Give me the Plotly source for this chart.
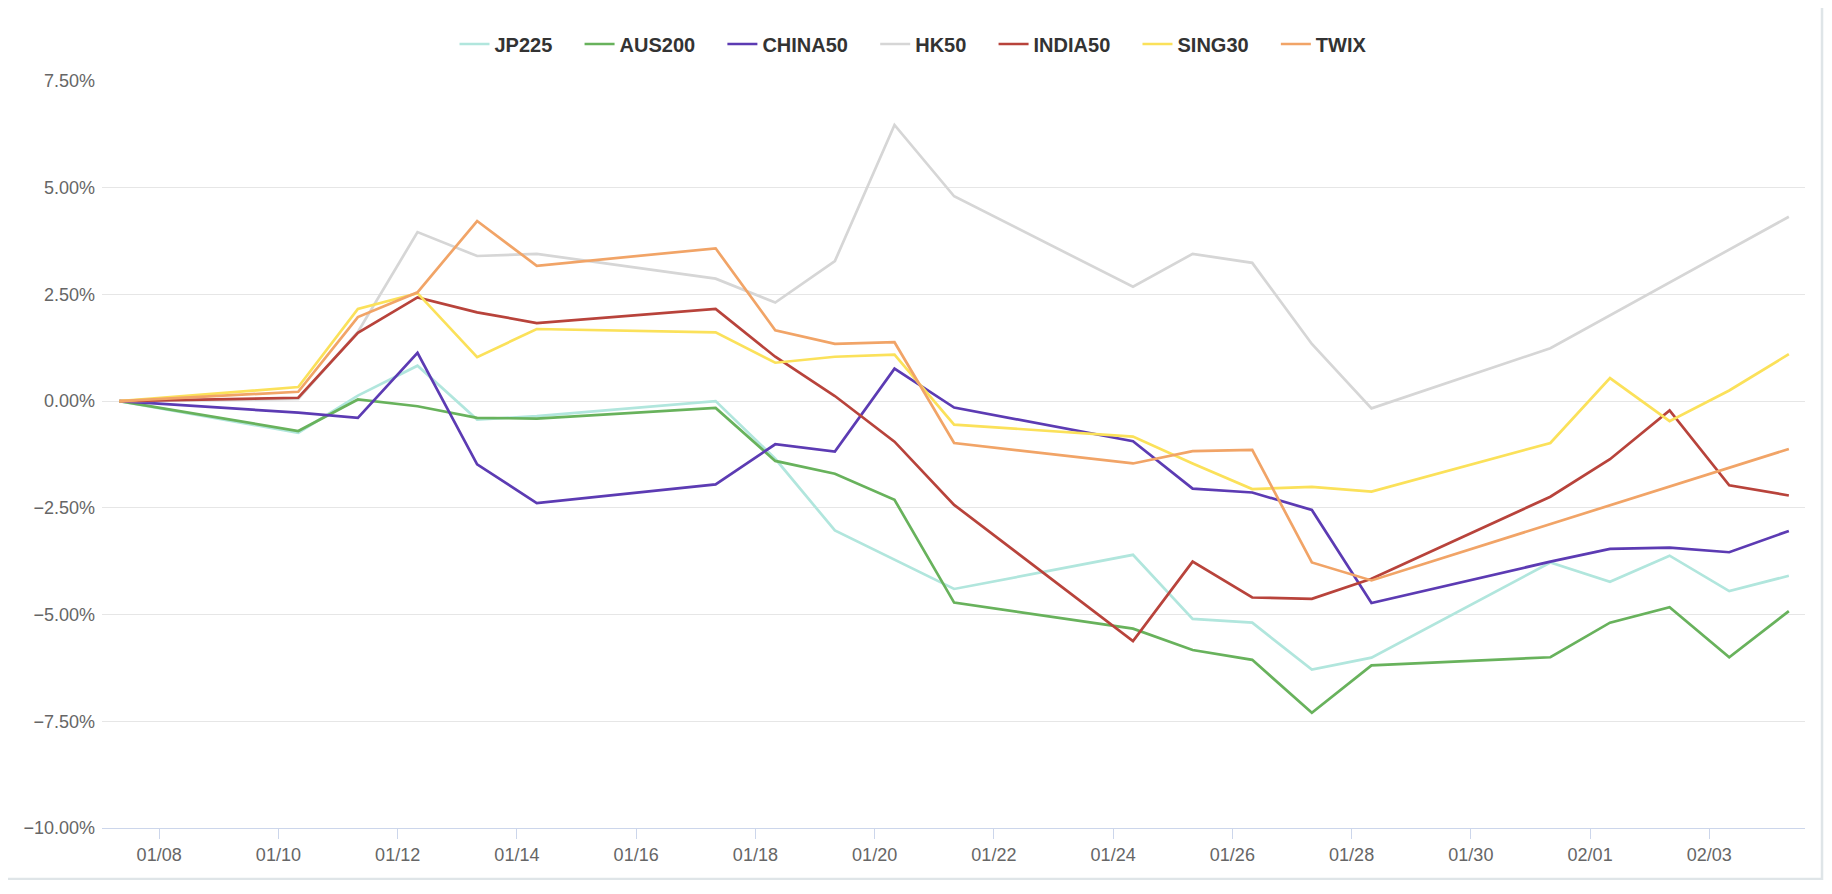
import plotly.graph_objs as go

# trading days (points sit at 08:00)
dates = ["2022-01-07", "2022-01-10", "2022-01-11", "2022-01-12", "2022-01-13",
         "2022-01-14", "2022-01-17", "2022-01-18", "2022-01-19", "2022-01-20",
         "2022-01-21", "2022-01-24", "2022-01-25", "2022-01-26", "2022-01-27",
         "2022-01-28", "2022-01-31", "2022-02-01", "2022-02-02", "2022-02-03",
         "2022-02-04"]
dates = [d + " 08:00" for d in dates]

# cumulative change in %
jp225 = [0, -0.74, 0.13, 0.83, -0.43, -0.35, 0.0, -1.35, -3.03, -3.71, -4.40,
         -3.60, -5.10, -5.19, -6.29, -6.01, -3.78, -4.23, -3.62, -4.45, -4.09]
aus200 = [0, -0.70, 0.04, -0.12, -0.39, -0.41, -0.16, -1.40, -1.70, -2.31, -4.72,
          -5.33, -5.83, -6.06, -7.30, -6.19, -6.00, -5.19, -4.83, -6.00, -4.92]
china50 = [0, -0.27, -0.39, 1.13, -1.48, -2.39, -1.95, -1.01, -1.18, 0.76, -0.15,
           -0.94, -2.05, -2.14, -2.55, -4.73, -3.76, -3.46, -3.43, -3.54, -3.04]
hk50 = [0, 0.05, 1.62, 3.96, 3.40, 3.45, 2.87, 2.31, 3.28, 6.47, 4.80,
        2.68, 3.45, 3.24, 1.34, -0.17, 1.24, None, None, None, 4.32]
india50 = [0, 0.08, 1.60, 2.43, 2.08, 1.83, 2.16, 1.04, 0.12, -0.95, -2.43,
           -5.62, -3.76, -4.60, -4.63, -4.16, -2.24, -1.36, -0.22, -1.97, -2.21]
sing30 = [0, 0.33, 2.16, 2.53, 1.03, 1.69, 1.61, 0.90, 1.04, 1.09, -0.55,
          -0.83, -1.46, -2.06, -2.01, -2.12, -0.98, 0.54, -0.47, 0.25, 1.10]
twix = [0, 0.22, 1.97, 2.55, 4.22, 3.17, 3.58, 1.66, 1.34, 1.38, -0.98,
        -1.46, -1.17, -1.14, -3.78, -4.20, None, None, None, None, -1.12]

names = ["JP225", "AUS200", "CHINA50", "HK50", "INDIA50", "SING30", "TWIX"]
values = [jp225, aus200, china50, hk50, india50, sing30, twix]
colors = ["#b1e6dd", "#68b25c", "#5c3bb3", "#d6d6d6", "#b8433b", "#fbe15a", "#f1a467"]

data = []
for i, name in enumerate(names):
    # pad legend entries a little so the items spread like the original
    label = name if i == len(names) - 1 else name + "\u00a0" * 4
    data.append(go.Scatter(x=dates, y=values[i], name=label, mode="lines",
                           connectgaps=True,
                           line={"color": colors[i], "width": 2.7}))

# page body has an 8px margin, so the figure is sized/offset to suit
layout = go.Layout(
    width=1816, height=872,
    paper_bgcolor="white", plot_bgcolor="white",
    margin={"l": 94, "r": 19, "t": 73, "b": 52, "autoexpand": False},
    font={"family": "Liberation Sans, Arial, sans-serif", "color": "#666666"},
    showlegend=True,
    legend={"orientation": "h", "xref": "container", "yref": "container",
            "x": 905.5 / 1816, "xanchor": "center",
            "y": 1 - 36 / 872, "yanchor": "middle",
            "font": {"size": 20, "color": "#333333", "weight": "bold"},
            "itemwidth": 30},
    xaxis={"type": "date",
           "range": ["2022-01-07 01:00", "2022-02-04 14:30"],
           "tick0": "2022-01-08", "dtick": 2 * 86400000, "tickformat": "%m/%d",
           "showgrid": False, "zeroline": False,
           "showline": True, "linecolor": "#ccd6eb", "linewidth": 1,
           "ticks": "outside", "ticklen": 10, "tickcolor": "#ccd6eb",
           "ticklabelstandoff": 0,
           "tickfont": {"size": 18, "color": "#666666"}},
    yaxis={"range": [-10, 7.5], "tick0": 0, "dtick": 2.5,
           "tickformat": ".2f", "ticksuffix": "%",
           "showgrid": True, "gridcolor": "#e6e6e6", "gridwidth": 1,
           "zeroline": False, "showline": False, "ticks": "",
           "ticklabelstandoff": 6,
           "tickfont": {"size": 18, "color": "#666666"}},
    shapes=[{"type": "rect", "xref": "paper", "yref": "paper",
             "x0": -0.0571, "x1": 1.0100, "y0": -0.0683, "y1": 1.1022,
             "line": {"color": "#dfe5e8", "width": 2.5}, "layer": "below"}],
)

fig = go.Figure(data=data, layout=layout)
fig.write_html("out.html")
